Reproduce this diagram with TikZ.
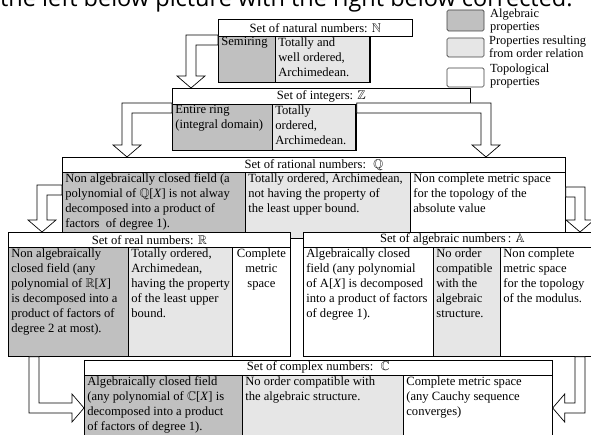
\documentclass[tikz,border=0pt]{standalone}
\usepackage{amssymb}
\usepackage{fontspec}
\setmainfont{Liberation Serif}
\newfontfamily\topfont{Open Sans}
\usetikzlibrary{calc}
\definecolor{algc}{RGB}{192,192,192}
\definecolor{ordc}{RGB}{230,230,230}
\newcommand{\cellt}[3]{\parbox[t][#2pt][t]{#1pt}{\vspace{1pt}\raggedright\leftskip=3pt #3}}
\newcommand{\cellc}[3]{\parbox[t][#2pt][t]{#1pt}{\vspace{1pt}\centering #3}}
% hollow L arrow: horizontal from box side, then down. #1 = +1 going left, -1 going right
\newcommand{\blkdown}[3]{%
  \coordinate (bk) at (#3 |- #2);
  \draw[blk] ($(#2)+(0,-5)$) -- ($(bk)+({-(#1)*5},-5)$) -- ($(#3)+({-(#1)*5},-12)$)
    -- ($(#3)+({-(#1)*14},-12)$) -- (#3) -- ($(#3)+({(#1)*14},-12)$)
    -- ($(#3)+({(#1)*5},-12)$) -- ($(bk)+({(#1)*5},5)$) -- ($(#2)+(0,5)$) -- cycle;}
% hollow L arrow: down from box bottom, then sideways. #1 = +1 going right, -1 going left
\newcommand{\blkside}[3]{%
  \coordinate (bk) at (#2 |- #3);
  \draw[blk] ($(#2)+({-(#1)*5},0)$) -- ($(bk)+({-(#1)*5},5)$) -- ($(#3)+({-(#1)*12},5)$)
    -- ($(#3)+({-(#1)*12},14)$) -- (#3) -- ($(#3)+({-(#1)*12},-14)$)
    -- ($(#3)+({-(#1)*12},-5)$) -- ($(bk)+({(#1)*5},-5)$) -- ($(#2)+({(#1)*5},0)$) -- cycle;}
\begin{document}
\begin{tikzpicture}[x=1pt,y=-1pt,
  every node/.style={font=\fontsize{12.6}{15}\selectfont},
  box/.style={draw=black, line width=0.7pt, inner sep=0pt, anchor=north west},
  alg/.style={box, fill=algc},
  ord/.style={box, fill=ordc},
  topo/.style={box, fill=white},
  hdr/.style={box, fill=white},
  blk/.style={draw=black, fill=white, line width=0.7pt, line join=miter},
  leg/.style={draw=black!75, line width=0.7pt, rounded corners=1.5pt},
  legt/.style={anchor=north west, inner sep=0pt, align=left, font=\fontsize{12.4}{12.5}\selectfont}]
\useasboundingbox (0,0) rectangle (591,435);
\clip (0,0) rectangle (591,435);
\fill[white] (0,0) rectangle (591,435);

% partial title line
\node[anchor=base west, inner sep=0pt, font=\topfont\fontsize{23.5}{23.5}\selectfont] (title) at (0,7) {the left below picture with the right below corrected.};

% legend
\draw[leg, fill=algc] (447,10) rectangle (484,31);
\draw[leg, fill=ordc] (447,38) rectangle (484,57);
\draw[leg, fill=white] (447,68) rectangle (484,87);
\node[legt] (l1) at (490,9) {Algebraic\\properties};
\node[legt] (l2) at (489,36) {Properties resulting\\from order relation};
\node[legt] (l3) at (490,64) {Topological\\ properties};

% N
\node[hdr, minimum width=194pt, minimum height=17pt] (Nh) at (218,19) {Set of natural numbers: $\mathbb{N}$};
\node[alg] (Na) at (218,36) {\cellt{57}{46}{Semiring}};
\node[ord] (No) at (275,36) {\cellt{94}{46}{Totally and\\well ordered,\\Archimedean.}};
\node[topo] (Nt) at (369,36) {\cellt{43}{46}{}};

% Z
\node[hdr, minimum width=298pt, minimum height=16pt] (Zh) at (172,88) {Set of integers: $\mathbb{Z}$};
\node[alg] (Za) at (172,104) {\cellt{100}{46}{Entire ring\\(integral domain)}};
\node[ord] (Zo) at (272,104) {\cellt{83}{46}{Totally\\ordered,\\Archimedean.}};
\node[topo] (Zt) at (355,104) {\cellt{115}{46}{}};

% Q
\node[hdr, minimum width=503pt, minimum height=15pt] (Qh) at (62,157) {Set of rational numbers: \ $\mathbb{Q}$};
\node[alg] (Qa) at (62,172) {\cellt{183}{66}{Non algebraically closed field (a\\polynomial of $\mathbb{Q}$[\textit{X}] is not alway\\decomposed into a product of\\factors \ of degree 1).}};
\node[ord] (Qo) at (245,172) {\cellt{165}{66}{Totally ordered, Archimedean,\\not having the property of\\the least upper bound.}};
\node[topo] (Qt) at (410,172) {\cellt{155}{66}{Non complete metric space\\for the topology of the\\absolute value}};

% R
\node[hdr, minimum width=282pt, minimum height=15pt] (Rh) at (8,232) {Set of real numbers: $\mathbb{R}$};
\node[alg] (Ra) at (8,247) {\cellt{120}{109}{Non algebraically\\closed field (any\\polynomial of $\mathbb{R}$[\textit{X}]\\is decomposed into a\\product of factors of\\degree 2 at most).}};
\node[ord] (Ro) at (128,247) {\cellt{104}{109}{Totally ordered,\\Archimedean,\\having the property\\of the least upper\\bound.}};
\node[topo] (Rt) at (232,247) {\cellc{58}{109}{Complete\\metric\\space}};

% A
\node[hdr, minimum width=298pt, minimum height=15pt] (Ah) at (303,232) {Set of algebraic numbers\,: $\mathbb{A}$};
\node[topo] (Aa) at (303,247) {\cellt{130}{109}{Algebraically closed\\field (any polynomial\\of A[\textit{X}] is decomposed\\into a product of factors\\of degree 1).}};
\node[ord] (Ao) at (433,247) {\cellt{67}{109}{No order\\compatible\\with the\\algebraic\\structure.}};
\node[topo] (At) at (500,247) {\cellt{101}{109}{Non complete\\metric space\\for the topology\\of the modulus.}};

% C
\node[hdr, minimum width=468pt, minimum height=15pt] (Ch) at (84,360) {Set of complex numbers: \ $\mathbb{C}$};
\node[alg] (Ca) at (84,375) {\cellt{158}{70}{Algebraically closed field\\(any polynomial of $\mathbb{C}$[\textit{X}] is\\decomposed into a product\\of factors of degree 1).}};
\node[ord] (Co) at (242,375) {\cellt{161}{70}{No order compatible with\\the algebraic structure.}};
\node[topo] (Ct) at (403,375) {\cellt{149}{70}{Complete metric space\\(any Cauchy sequence\\converges)}};

% arrows
\coordinate (s1) at ($(Na.north west)+(0,4)$);
\coordinate (t1) at (191,0 |- Zh.north);
\blkdown{1}{s1}{t1}
\coordinate (s2) at ($(Za.north west)+(0,4)$);
\coordinate (t2) at (127,0 |- Qh.north);
\blkdown{1}{s2}{t2}
\coordinate (s3) at ($(Zt.north east)+(0,4)$);
\coordinate (t3) at (486,0 |- Qh.north);
\blkdown{-1}{s3}{t3}
\coordinate (s4) at ($(Qa.north west)+(0,18)$);
\coordinate (t4) at (42,0 |- Rh.north);
\blkdown{1}{s4}{t4}
\coordinate (s5) at ($(Qt.north east)+(0,20)$);
\coordinate (t5) at (580,0 |- Ah.north);
\blkdown{-1}{s5}{t5}
\coordinate (s6) at (34,0 |- Ra.south);
\coordinate (t6) at (Ca.west |- 0,408);
\blkside{1}{s6}{t6}
\coordinate (s7) at (580,0 |- At.south);
\coordinate (t7) at (Ct.east |- 0,408);
\blkside{-1}{s7}{t7}
\end{tikzpicture}
\end{document}
